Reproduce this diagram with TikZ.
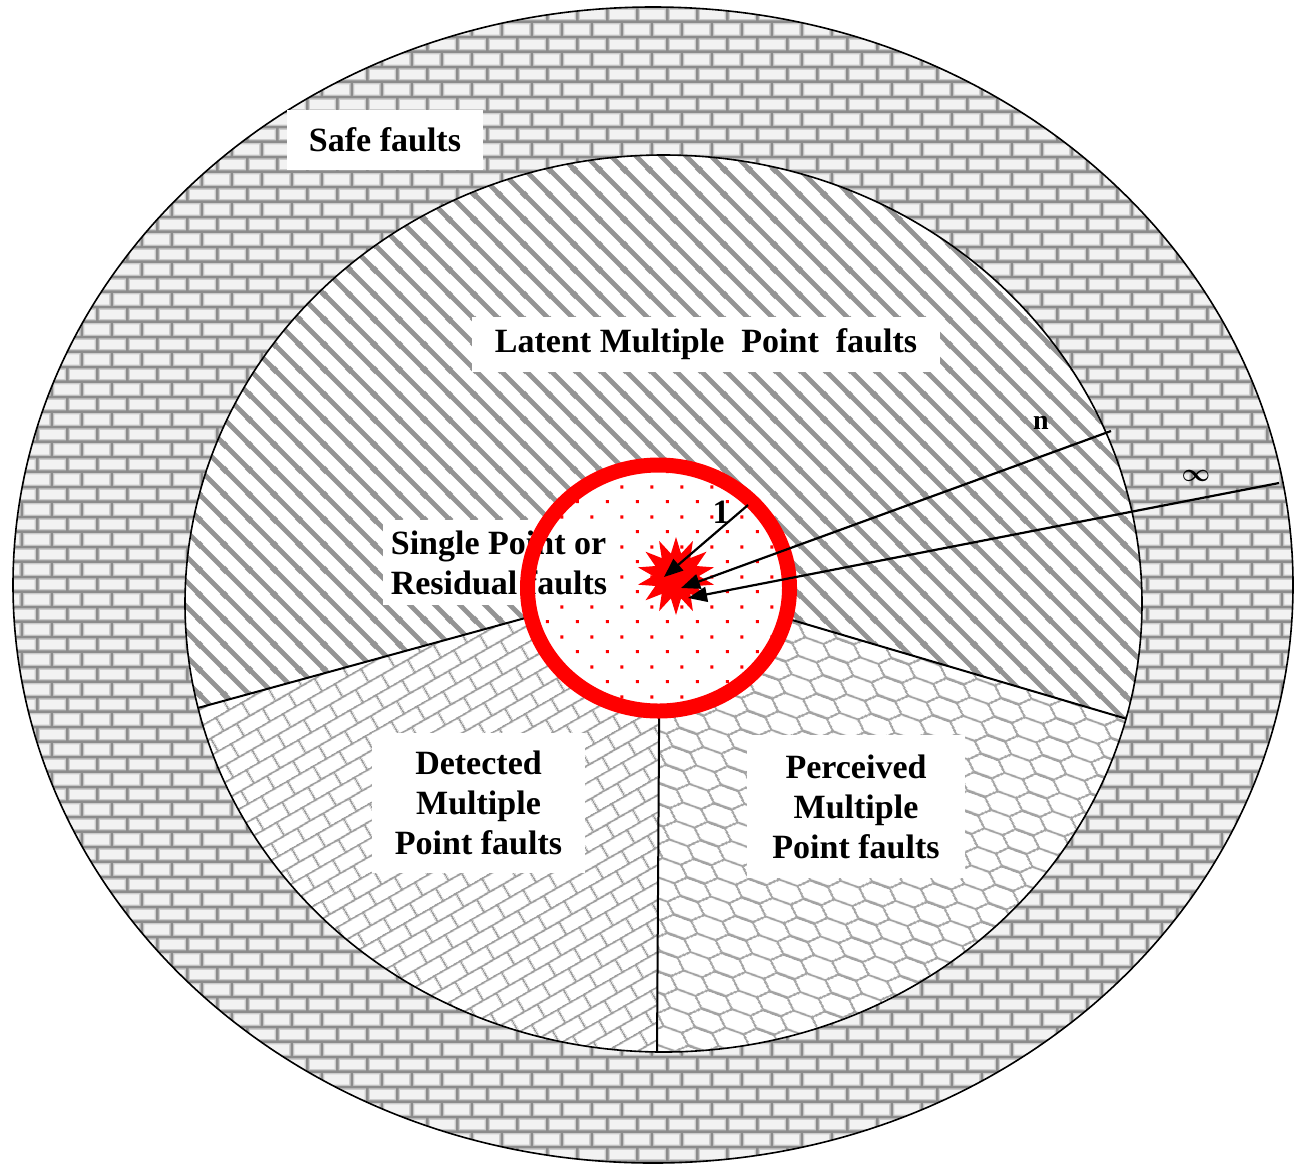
\documentclass[tikz,border=0pt]{standalone}
\usepackage{fontspec}
\setmainfont{Liberation Serif}
\usetikzlibrary{patterns.meta,arrows.meta,shapes.geometric}

\newcommand\mybrickpath{%
  \pgfpathmoveto{\pgfpoint{-1pt}{7.5pt}}\pgfpathlineto{\pgfpoint{31pt}{7.5pt}}%
  \pgfpathmoveto{\pgfpoint{-1pt}{22.5pt}}\pgfpathlineto{\pgfpoint{31pt}{22.5pt}}%
  \pgfpathmoveto{\pgfpoint{7.5pt}{7.5pt}}\pgfpathlineto{\pgfpoint{7.5pt}{22.5pt}}%
  \pgfpathmoveto{\pgfpoint{22.5pt}{22.5pt}}\pgfpathlineto{\pgfpoint{22.5pt}{31pt}}%
  \pgfpathmoveto{\pgfpoint{22.5pt}{-1pt}}\pgfpathlineto{\pgfpoint{22.5pt}{7.5pt}}%
}

\pgfdeclarepattern{
  name=wallbricks,
  type=colored,
  bottom left={\pgfpoint{0pt}{0pt}},
  top right={\pgfpoint{30pt}{30pt}},
  tile size={\pgfpoint{30pt}{30pt}},
  code={
    \pgfsetlinewidth{5.5pt}
    \pgfsetstrokecolor{black!20}
    \mybrickpath
    \pgfusepath{stroke}
    \pgfsetlinewidth{2.6pt}
    \pgfsetstrokecolor{black!45}
    \mybrickpath
    \pgfusepath{stroke}
  }
}

\pgfdeclarepattern{
  name=tiltbricks,
  bottom left={\pgfpoint{0pt}{0pt}},
  top right={\pgfpoint{30pt}{30pt}},
  tile size={\pgfpoint{30pt}{30pt}},
  tile transformation={\pgftransformrotate{30}},
  code={
    \pgfsetlinewidth{1.9pt}
    \mybrickpath
    \pgfusepath{stroke}
  }
}

\pgfdeclarepattern{
  name=stripes,
  bottom left={\pgfpoint{0pt}{0pt}},
  top right={\pgfpoint{25pt}{25pt}},
  tile size={\pgfpoint{25pt}{25pt}},
  code={
    \pgfsetlinewidth{5pt}
    \pgfpathmoveto{\pgfpoint{-3pt}{28pt}}\pgfpathlineto{\pgfpoint{28pt}{-3pt}}
    \pgfpathmoveto{\pgfpoint{-3pt}{3pt}}\pgfpathlineto{\pgfpoint{3pt}{-3pt}}
    \pgfpathmoveto{\pgfpoint{22pt}{28pt}}\pgfpathlineto{\pgfpoint{28pt}{22pt}}
    \pgfusepath{stroke}
  }
}

\pgfdeclarepattern{
  name=hexcells,
  bottom left={\pgfpoint{0pt}{0pt}},
  top right={\pgfpoint{58.5pt}{19.5pt}},
  tile size={\pgfpoint{58.5pt}{19.5pt}},
  tile transformation={\pgftransformrotate{-20}},
  code={
    \pgfsetlinewidth{2pt}
    \pgfsetroundjoin
    \pgfpathmoveto{\pgfpoint{-1pt}{9.75pt}}\pgfpathlineto{\pgfpoint{9.75pt}{9.75pt}}\pgfpathlineto{\pgfpoint{19.5pt}{0pt}}\pgfpathlineto{\pgfpoint{39pt}{0pt}}\pgfpathlineto{\pgfpoint{48.75pt}{9.75pt}}\pgfpathlineto{\pgfpoint{59.5pt}{9.75pt}}
    \pgfpathmoveto{\pgfpoint{9.75pt}{9.75pt}}\pgfpathlineto{\pgfpoint{19.5pt}{19.5pt}}\pgfpathlineto{\pgfpoint{39pt}{19.5pt}}\pgfpathlineto{\pgfpoint{48.75pt}{9.75pt}}
    \pgfusepath{stroke}
  }
}

\pgfdeclarepattern{
  name=reddots,
  bottom left={\pgfpoint{0pt}{0pt}},
  top right={\pgfpoint{30pt}{30pt}},
  tile size={\pgfpoint{30pt}{30pt}},
  code={
    \pgfpathrectangle{\pgfpoint{6pt}{6pt}}{\pgfpoint{3.2pt}{3.2pt}}
    \pgfpathrectangle{\pgfpoint{21pt}{21pt}}{\pgfpoint{3.2pt}{3.2pt}}
    \pgfusepath{fill}
  }
}

\begin{document}
\begin{tikzpicture}[x=1pt,y=-1pt,
  lbl/.style={font=\bfseries\fontsize{34}{40}\selectfont, fill=white, inner sep=0pt, align=center},
  sectorline/.style={line width=2pt, black},
  rim/.style={line width=1.6pt, black},
  ptr/.style={line width=2.2pt, black, -{Triangle[length=19pt,width=15pt]}},
]
\useasboundingbox (0,0) rectangle (1297,1168);
\fill[white] (0,0) rectangle (1297,1168);

% outer ring: safe faults
\coordinate (O) at (653,585);
\fill[black!5] (O) ellipse [x radius=640, y radius=578];
\fill[pattern=wallbricks] (O) ellipse [x radius=640, y radius=578];
\draw[rim] (O) ellipse [x radius=640, y radius=578];

% inner disc
\coordinate (I) at (663.5,603.5);
\fill[white] (I) ellipse [x radius=478.5, y radius=448.5];
\fill[pattern=stripes, pattern color=black!42] (I) ellipse [x radius=478.5, y radius=448.5];
\begin{scope}
  \clip (I) ellipse [x radius=478.5, y radius=448.5];
  \coordinate (C) at (660,581);
  \coordinate (Lf) at (-250,831);
  \coordinate (Bf) at (654,1519);
  \coordinate (Rf) at (1574,851);
  \coordinate (LBc) at (-250,1519);
  \coordinate (RBc) at (1600,1519);
  \fill[white] (C) -- (Lf) -- (LBc) -- (Bf) -- cycle;
  \fill[pattern=tiltbricks, pattern color=black!38] (C) -- (Lf) -- (LBc) -- (Bf) -- cycle;
  \fill[white] (C) -- (Bf) -- (RBc) -- (Rf) -- cycle;
  \fill[pattern=hexcells, pattern color=black!36] (C) -- (Bf) -- (RBc) -- (Rf) -- cycle;
  \draw[sectorline] (C) -- (Lf);
  \draw[sectorline] (C) -- (Bf);
  \draw[sectorline] (C) -- (Rf);
\end{scope}
\draw[rim] (I) ellipse [x radius=478.5, y radius=448.5];

% centre
\coordinate (K) at (658.5,588);
\fill[white] (K) ellipse [x radius=131, y radius=123];
\fill[pattern=reddots, pattern color=red] (K) ellipse [x radius=131, y radius=123];

% labels
\node[lbl, minimum width=196pt, minimum height=60pt] (safe) at (385,140) {Safe faults};
\node[lbl, minimum width=468pt, minimum height=55pt] (latent) at (706,344.5) {Latent Multiple\ \ Point\ \ faults};
\node[lbl, minimum width=232pt, minimum height=85pt, align=left] (single) at (499,562.5) {Single Point or\\Residual faults};
\node[lbl, minimum width=213pt, minimum height=140pt] (detected) at (478.5,803) {Detected\\Multiple\\Point faults};
\node[lbl, minimum width=218pt, minimum height=143pt] (perceived) at (856,806.5) {Perceived\\Multiple\\Point faults};

% red ring
\draw[red, line width=15pt] (K) ellipse [x radius=131, y radius=123];

% burst
\node[star, star points=14, star point ratio=1.7, fill=red, minimum size=78pt, inner sep=0pt] (burst) at (676,576) {};

% pointers
\coordinate (p1s) at (748,505);
\coordinate (p1e) at (664,577);
\coordinate (pns) at (1111,431);
\coordinate (pne) at (681,588);
\coordinate (pis) at (1279,483);
\coordinate (pie) at (688,598);
\draw[ptr] (p1s) -- (p1e);
\draw[ptr] (pns) -- (pne);
\draw[ptr] (pis) -- (pie);
\node[font=\bfseries\fontsize{34}{40}\selectfont, inner sep=0pt] (one) at (721,512) {1};
\node[font=\bfseries\fontsize{28}{30}\selectfont, inner sep=0pt] (nlab) at (1041,423) {n};
\node[font=\fontsize{26}{28}\selectfont\mathversion{bold}, inner sep=0pt] (inflab) at (1196,476) {$\infty$};
\end{tikzpicture}
\end{document}
